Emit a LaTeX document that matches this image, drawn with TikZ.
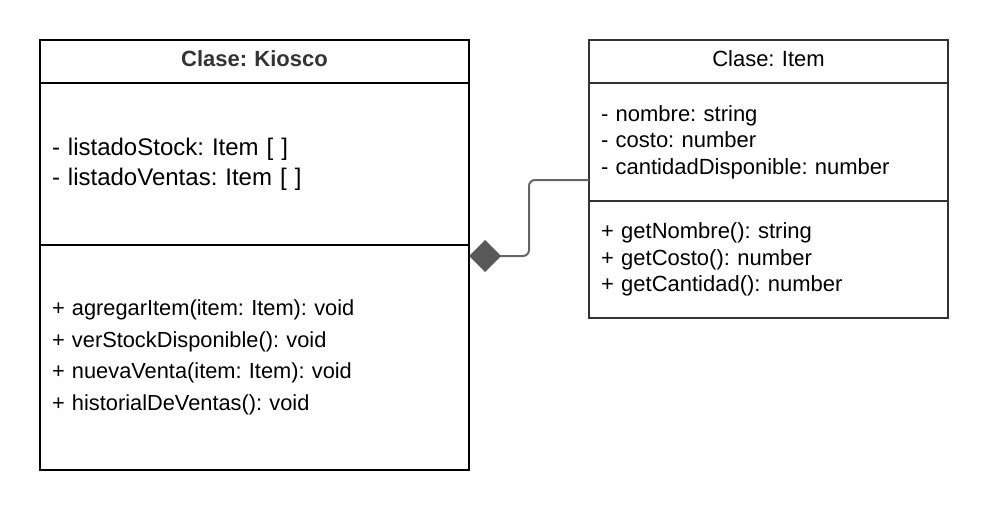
\documentclass[tikz,border=0pt]{standalone}
\usepackage{fontspec}
\setmainfont{Liberation Sans}
\usetikzlibrary{arrows.meta,positioning,calc}
\definecolor{Ink}{HTML}{333333}
\definecolor{Wire}{HTML}{666666}
\definecolor{Knob}{HTML}{595959}
\frenchspacing

\begin{document}
\begin{tikzpicture}[
  x=1pt,y=-1pt,
  node distance=0pt,
  part/.style={draw,line width=1.8pt,outer sep=0pt,inner xsep=12pt,inner ysep=0pt,align=left},
  head/.style={part,align=center,font=\fontsize{22}{26}\selectfont,minimum height=43pt,text height=21pt,text depth=10pt},
  kpart/.style={part,draw=black,text width=405pt},
  ipart/.style={part,draw=Ink,text width=335pt,font=\fontsize{22}{26.5}\selectfont},
  assoc/.style={draw=Wire,line width=2pt,rounded corners=6pt,
    -{Diamond[length=32pt,width=32pt,fill=Knob,color=Knob,line width=0pt]}}
]
\useasboundingbox (0,0) rectangle (989,511);
% Kiosco
\node[kpart,head,text=Ink,font=\fontsize{22}{26}\selectfont\bfseries,anchor=north west] (kt) at (40,40) {Clase: Kiosco};
\node[kpart,below=of kt,minimum height=162pt,font=\fontsize{24}{30}\selectfont] (ka)
  {- listadoStock: Item [ ]\\- listadoVentas: Item [ ]};
\node[kpart,below=of ka,minimum height=225pt,font=\fontsize{21.8}{31.6}\selectfont] (km)
  {+ agregarItem(item: Item): void\\+ verStockDisponible(): void\\+ nuevaVenta(item: Item): void\\+ historialDeVentas(): void};
% Item
\node[ipart,head,anchor=north west] (it) at (589,40) {Clase: Item};
\node[ipart,below=of it,minimum height=118pt] (ia)
  {- nombre: string\\- costo: number\\- cantidadDisponible: number};
\node[ipart,below=of ia,minimum height=117pt] (im)
  {+ getNombre(): string\\+ getCosto(): number\\+ getCantidad(): number};
% composicion
\coordinate (link) at ([yshift=-38pt]ia.west);
\coordinate (kdot) at ([yshift=-11pt]km.north east);
\draw[assoc] (link) -| ($(link)!0.5!(kdot)$) |- (kdot);
\end{tikzpicture}
\end{document}
